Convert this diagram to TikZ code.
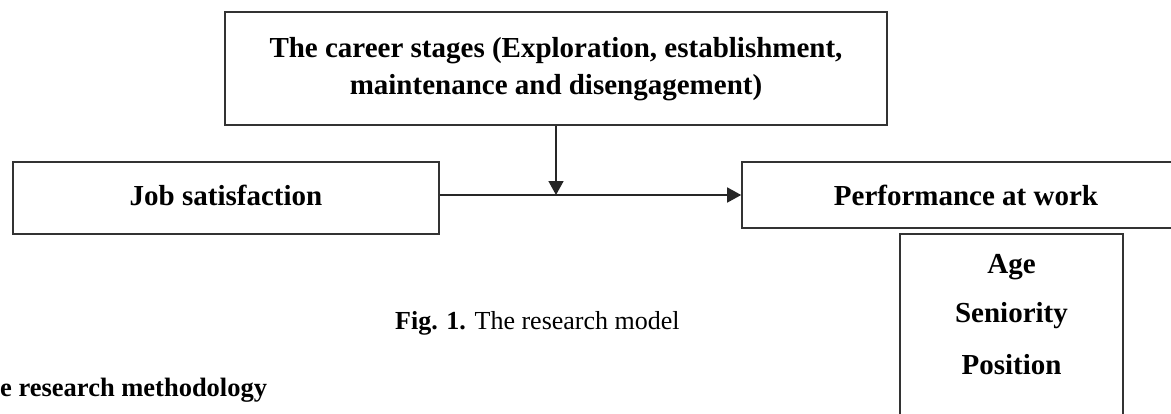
\documentclass[tikz,border=0pt]{standalone}
\usepackage{fontspec}
\setmainfont{Liberation Serif}
\usetikzlibrary{arrows.meta}
\begin{document}
\begin{tikzpicture}[x=1pt,y=-1pt,
  boxline/.style={draw=black!80, line width=1.6pt},
  box/.style={boxline, rectangle, inner sep=0pt},
  bt/.style={font=\fontsize{29}{37}\selectfont\bfseries, align=center, inner sep=0pt},
  arr/.style={draw=black!85, line width=1.6pt, -{Triangle[length=14pt,width=15pt]}}]
\useasboundingbox (0,0) rectangle (1171,413);
\node[box, minimum width=662pt, minimum height=113pt] (top) at (556,68.5) {};
\node[bt] (toptxt) at (556,69) {The career stages (Exploration, establishment,\\maintenance and disengagement)};
\node[box, minimum width=426pt, minimum height=72pt] (job) at (226,198) {};
\node[bt] (jobtxt) at (226,195) {Job satisfaction};
\node[box, minimum width=448pt, minimum height=66pt] (perf) at (966,195) {};
\node[bt] (perftxt) at (966,195) {Performance at work};
\node[box, minimum width=223pt, minimum height=206pt] (ctrl) at (1011.5,337) {};
\node[bt] (age) at (1011.5,267) {Age};
\node[bt] (sen) at (1011.5,316) {Seniority};
\node[bt] (pos) at (1011.5,365) {Position};
\node[font=\fontsize{26}{31}\selectfont, anchor=west, inner sep=0pt] (cap) at (395,323) {\textbf{Fig. 1.} The research model};
\node[font=\fontsize{26.5}{31}\selectfont\bfseries, anchor=west, inner sep=0pt] (sec) at (0,390) {e research methodology};
\coordinate (jx) at (job.east |- perf.west);
\draw[arr] (jx) -- (perf.west);
\draw[arr] (top.south) -- (top.south |- perf.west);
\end{tikzpicture}
\end{document}
